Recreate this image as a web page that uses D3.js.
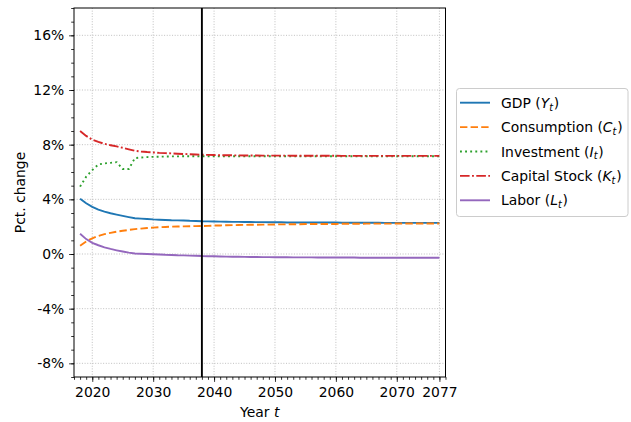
<!DOCTYPE html>
<html>
<head>
<meta charset="utf-8">
<script src="https://cdn.jsdelivr.net/npm/d3@7"></script>
<style>
  html, body { margin: 0; padding: 0; background: #fff; }
  svg { display: block; font-family: "DejaVu Sans", sans-serif; }
</style>
</head>
<body>
<svg id="chart" width="631" height="422"></svg>
<script>
const years = [2018,2019,2020,2021,2022,2023,2024,2025,2026,2027,2028,2029,2030,2031,2032,2033,2034,2035,2036,2037,2038,2039,2040,2041,2042,2043,2044,2045,2046,2047,2048,2049,2050,2051,2052,2053,2054,2055,2056,2057,2058,2059,2060,2061,2062,2063,2064,2065,2066,2067,2068,2069,2070,2071,2072,2073,2074,2075,2076,2077];

const gdp = [4.05,3.71,3.45,3.25,3.10,2.98,2.88,2.79,2.70,2.62,2.59,2.56,2.53,2.51,2.49,2.47,2.46,2.45,2.43,2.42,2.40,2.39,2.38,2.37,2.36,2.35,2.35,2.34,2.34,2.33,2.33,2.32,2.32,2.32,2.31,2.31,2.31,2.31,2.30,2.30,2.30,2.30,2.30,2.29,2.29,2.29,2.29,2.29,2.29,2.29,2.28,2.28,2.28,2.28,2.28,2.28,2.28,2.28,2.28,2.28];

const consumption = [0.61,0.92,1.15,1.32,1.45,1.55,1.63,1.70,1.76,1.82,1.86,1.90,1.93,1.96,1.98,2.00,2.01,2.02,2.03,2.04,2.05,2.06,2.08,2.09,2.10,2.11,2.12,2.13,2.14,2.14,2.15,2.15,2.16,2.17,2.17,2.18,2.18,2.19,2.19,2.19,2.20,2.20,2.20,2.21,2.21,2.21,2.21,2.22,2.22,2.22,2.22,2.22,2.23,2.23,2.23,2.23,2.23,2.23,2.23,2.23];

const investment = [4.93,5.66,6.14,6.55,6.63,6.67,6.72,6.22,6.22,7.02,7.06,7.09,7.11,7.12,7.13,7.14,7.14,7.15,7.15,7.15,7.15,7.15,7.15,7.15,7.15,7.15,7.15,7.15,7.15,7.15,7.15,7.15,7.15,7.15,7.15,7.15,7.15,7.15,7.15,7.15,7.15,7.15,7.15,7.15,7.15,7.15,7.15,7.15,7.15,7.15,7.15,7.15,7.15,7.15,7.15,7.15,7.15,7.15,7.15,7.15];

const capital = [9.00,8.64,8.37,8.20,8.06,7.96,7.87,7.77,7.66,7.55,7.50,7.46,7.43,7.40,7.38,7.36,7.34,7.32,7.30,7.28,7.26,7.25,7.24,7.23,7.23,7.22,7.22,7.21,7.21,7.21,7.20,7.20,7.20,7.20,7.20,7.19,7.19,7.19,7.19,7.19,7.19,7.19,7.19,7.18,7.18,7.18,7.18,7.18,7.18,7.18,7.18,7.18,7.18,7.18,7.18,7.18,7.18,7.18,7.18,7.18];

const labor = [1.48,1.09,0.82,0.64,0.49,0.37,0.27,0.18,0.10,0.04,0.02,0.00,-0.02,-0.04,-0.06,-0.07,-0.09,-0.10,-0.12,-0.13,-0.15,-0.16,-0.17,-0.18,-0.19,-0.20,-0.20,-0.21,-0.22,-0.22,-0.23,-0.23,-0.24,-0.24,-0.24,-0.25,-0.25,-0.25,-0.25,-0.26,-0.26,-0.26,-0.26,-0.26,-0.26,-0.26,-0.27,-0.27,-0.27,-0.27,-0.27,-0.27,-0.27,-0.27,-0.27,-0.27,-0.27,-0.27,-0.27,-0.27];

const xMajorTicks = [2020,2030,2040,2050,2060,2070,2077];
const xMinorTicks = [2017,2018,2019,2020,2021,2022,2023,2024,2025,2026,2027,2028,2029,2030,2031,2032,2033,2034,2035,2036,2037,2038,2039,2040,2041,2042,2043,2044,2045,2046,2047,2048,2049,2050,2051,2052,2053,2054,2055,2056,2057,2058,2059,2060,2061,2062,2063,2064,2065,2066,2067,2068,2069,2070,2071,2072,2073,2074,2075,2076,2077,2078];
const yMajorTicks = [-8,-4,0,4,8,12,16];
const yMinorTicks = [-9,-8,-7,-6,-5,-4,-3,-2,-1,0,1,2,3,4,5,6,7,8,9,10,11,12,13,14,15,16,17,18];
const policyYear = 2038;

const seriesNames = ["GDP", "Consumption", "Investment", "Capital Stock", "Labor"];
const seriesSym = ["Y", "C", "I", "K", "L"];
const seriesValues = [gdp, consumption, investment, capital, labor];
const seriesColors = ["#1f77b4", "#ff7f0e", "#2ca02c", "#d62728", "#9467bd"];
const seriesDash = [null, "7.4,3.2", "1.9,3.2", "9.6,2.4,1.9,2.4", null];

const FS = "13.9px";
const svg = d3.select("#chart");
const L = 74, R = 445.5, T = 8, B = 377;
const x = d3.scaleLinear().domain([2017, 2078]).range([L, R]);
const y = d3.scaleLinear().domain([-9, 18]).range([B, T]);

// grid
const grid = svg.append("g");
grid.selectAll(".gx").data(xMajorTicks).enter().append("line")
  .attr("x1", d => x(d)).attr("x2", d => x(d)).attr("y1", T).attr("y2", B)
  .attr("stroke", "#b0b0b0").attr("stroke-width", 0.8).attr("stroke-dasharray", "1,1.65");
grid.selectAll(".gy").data(yMajorTicks).enter().append("line")
  .attr("x1", L).attr("x2", R).attr("y1", d => y(d)).attr("y2", d => y(d))
  .attr("stroke", "#b0b0b0").attr("stroke-width", 0.8).attr("stroke-dasharray", "1,1.65");

// axes
const xAxisMinor = d3.axisBottom(x).tickValues(xMinorTicks).tickSize(2.8).tickFormat("");
const xAxis = d3.axisBottom(x).tickValues(xMajorTicks).tickSize(4.9).tickPadding(4.9).tickFormat(d3.format("d"));
const yAxisMinor = d3.axisLeft(y).tickValues(yMinorTicks).tickSize(2.8).tickFormat("");
const yAxis = d3.axisLeft(y).tickValues(yMajorTicks).tickSize(4.9).tickPadding(4.9).tickFormat(d => d + "%");

function styleAxis(g) {
  g.select(".domain").remove();
  g.selectAll("line").attr("stroke", "#000").attr("stroke-width", 0.8);
  g.selectAll("text").attr("fill", "#000").style("font-size", FS).style("font-family", "DejaVu Sans");
}
svg.append("g").attr("transform", `translate(0,${B})`).call(xAxisMinor).call(styleAxis);
svg.append("g").attr("transform", `translate(0,${B})`).call(xAxis).call(styleAxis);
svg.append("g").attr("transform", `translate(${L},0)`).call(yAxisMinor).call(styleAxis);
svg.append("g").attr("transform", `translate(${L},0)`).call(yAxis).call(styleAxis);

// series lines
svg.append("clipPath").attr("id", "clip").append("rect")
  .attr("x", L).attr("y", T).attr("width", R - L).attr("height", B - T);
const lineGen = vals => d3.line().x((d, i) => x(years[i])).y(d => y(d))(vals);
seriesValues.forEach((vals, k) => {
  svg.append("path")
    .attr("d", lineGen(vals))
    .attr("fill", "none")
    .attr("stroke", seriesColors[k])
    .attr("stroke-width", 1.9)
    .attr("stroke-dasharray", seriesDash[k])
    .attr("clip-path", "url(#clip)");
});

// vertical line
svg.append("line")
  .attr("x1", x(policyYear)).attr("x2", x(policyYear)).attr("y1", T).attr("y2", B)
  .attr("stroke", "#000").attr("stroke-width", 1.9);

// spines
svg.append("rect").attr("x", L).attr("y", T).attr("width", R - L).attr("height", B - T)
  .attr("fill", "none").attr("stroke", "#000").attr("stroke-width", 1);

// axis labels
svg.append("text")
  .attr("transform", `translate(24.5,${(T + B) / 2}) rotate(-90)`)
  .attr("text-anchor", "middle")
  .style("font-size", FS)
  .text("Pct. change");
const xl = svg.append("text")
  .attr("x", (L + R) / 2).attr("y", 417)
  .attr("text-anchor", "middle")
  .style("font-size", FS);
xl.append("tspan").text("Year ");
xl.append("tspan").style("font-style", "italic").text("t");

// legend
const lg = svg.append("g");
lg.append("rect").attr("x", 456.5).attr("y", 88.5).attr("width", 171.5).attr("height", 128)
  .attr("rx", 3).attr("fill", "#fff").attr("fill-opacity", 0.8)
  .attr("stroke", "#cccccc").attr("stroke-width", 1);
seriesNames.forEach((name, k) => {
  const cy = 102.7 + k * 24.4;
  lg.append("line").attr("x1", 460).attr("x2", 490).attr("y1", cy).attr("y2", cy)
    .attr("stroke", seriesColors[k]).attr("stroke-width", 1.9)
    .attr("stroke-dasharray", seriesDash[k]);
  const t = lg.append("text").attr("x", 501).attr("y", cy + 5).style("font-size", FS);
  t.append("tspan").text(name + " (");
  t.append("tspan").style("font-style", "italic").text(seriesSym[k]);
  t.append("tspan").style("font-style", "italic").style("font-size", "9.7px").attr("dy", 2.8).text("t");
  t.append("tspan").attr("dy", -2.8).attr("dx", 0.8).text(")");
});
</script>
</body>
</html>
